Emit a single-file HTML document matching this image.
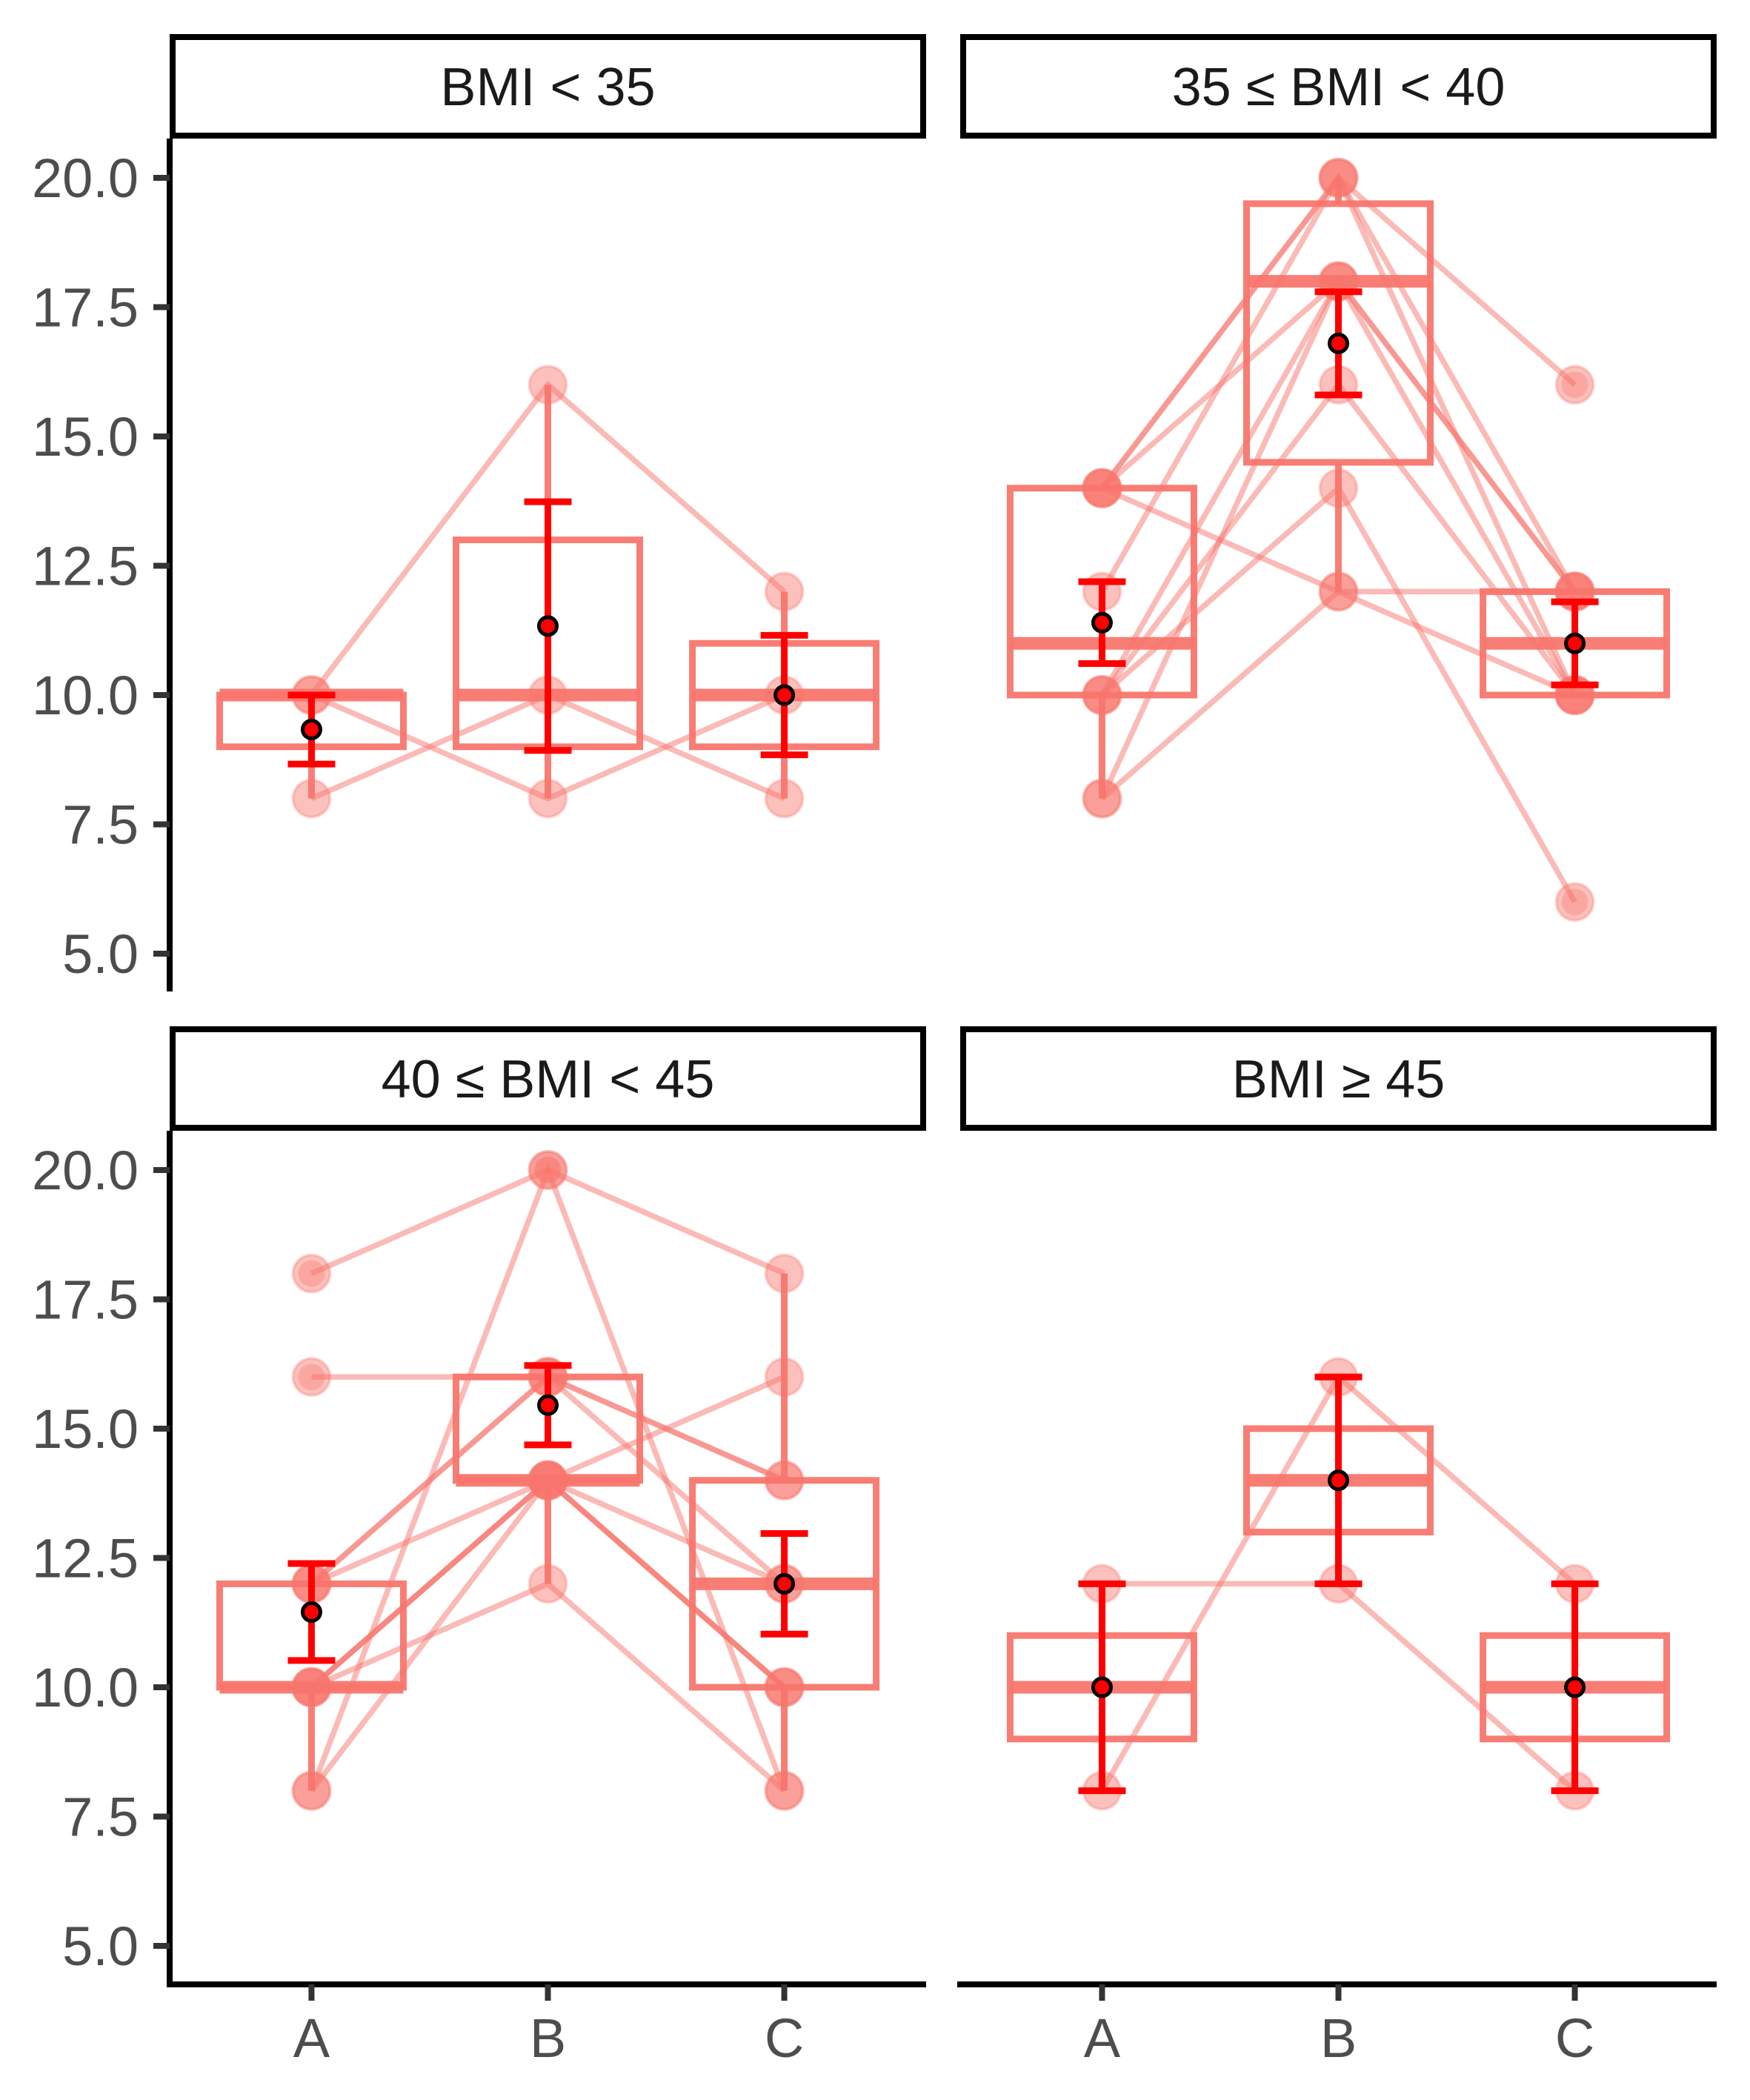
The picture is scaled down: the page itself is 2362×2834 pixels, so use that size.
<!DOCTYPE html>
<html><head><meta charset="utf-8"><style>
html,body{margin:0;padding:0;background:#fff}
svg{display:block}
text{font-family:"Liberation Sans",Arial,sans-serif}
</style></head><body>
<svg id="chart" width="2362" height="2834" viewBox="0 0 2362 2834" xmlns="http://www.w3.org/2000/svg"></svg>
<script>
const categories = ["A","B","C"];
const panelTitles = ["BMI < 35","35 ≤ BMI < 40","40 ≤ BMI < 45","BMI ≥ 45"];
const yTicks = [5.0, 7.5, 10.0, 12.5, 15.0, 17.5, 20.0];
const yTickLabels = ["5.0","7.5","10.0","12.5","15.0","17.5","20.0"];
// subject trajectories [A,B,C] per panel
const panel1 = [[10,16,12],[10,8,10],[8,10,8]];
const panel2 = [[14,20,12],[14,20,10],[14,18,12],[14,12,12],[12,20,16],[10,18,10],[10,16,10],[10,14,6],[8,18,12],[8,12,10]];
const panel3 = [[18,20,18],[16,16,14],[8,20,8],[8,14,10],[10,12,8],[10,14,16],[10,14,12],[12,16,12],[12,14,10],[12,16,14],[10,14,10]];
const panel4 = [[12,12,8],[8,16,12]];
const panels = [panel1, panel2, panel3, panel4];

const svg = document.getElementById('chart');
const NS = "http://www.w3.org/2000/svg";
const COL = "#F8766D";
function mk(tag, attrs, parent){
  const e = document.createElementNS(NS, tag);
  for (const k in attrs) e.setAttribute(k, attrs[k]);
  (parent||svg).appendChild(e);
  return e;
}
function quantile(arr,p){
  const s=[...arr].sort((a,b)=>a-b);const h=(s.length-1)*p;const lo=Math.floor(h);
  return s[lo]+(h-lo)*((s[Math.min(lo+1,s.length-1)])-s[lo]);
}
const layout = [
  {x0:229,x1:1250,top:187,y20:240,y5:1287,bottom:1338,strip:46,yaxis:true,xaxis:false},
  {x0:1296,x1:2317,top:187,y20:240,y5:1287,bottom:1338,strip:46,yaxis:false,xaxis:false},
  {x0:229,x1:1250,top:1526,y20:1579,y5:2626,bottom:2678,strip:1385,yaxis:true,xaxis:true},
  {x0:1296,x1:2317,top:1526,y20:1579,y5:2626,bottom:2678,strip:1385,yaxis:false,xaxis:true}
];
panels.forEach((data, pi) => {
  const L = layout[pi];
  const ys = v => L.y5 + (v-5)*(L.y20-L.y5)/15;
  const xs = i => L.x0 + (i+1-0.4)*(L.x1-L.x0)/3.2;
  const g = mk('g', {});
  
  
  // strip
  const st = mk('rect', {x:L.x0+4, y:L.strip+4, width:L.x1-L.x0-8, height:133, fill:'#fff', stroke:'#000', 'stroke-width':8}, g);
  
  
  const stt = mk('text', {x:(L.x0+L.x1)/2, y:L.strip+96, 'text-anchor':'middle', 'font-size':72, fill:'#1a1a1a'}, g);
  stt.textContent = panelTitles[pi];
  
  
  // boxes
  categories.forEach((c, ci) => {
    const vals = data.map(r => r[ci]);
    const q1 = quantile(vals,0.25), md = quantile(vals,0.5), q3 = quantile(vals,0.75);
    const iqr = q3-q1;
    const inside = vals.filter(v => v >= q1-1.5*iqr && v <= q3+1.5*iqr);
    const mn = Math.min(...inside), mx = Math.max(...inside);
    const x = xs(ci), hw = 124;
    const bg = mk('g', {stroke:COL, fill:'none', 'stroke-opacity':0.95}, g);
    
    
    mk('line', {x1:x, x2:x, y1:ys(q3), y2:ys(mx), 'stroke-width':9}, bg);
    mk('line', {x1:x, x2:x, y1:ys(q1), y2:ys(mn), 'stroke-width':9}, bg);
    mk('rect', {x:x-hw, y:ys(q3), width:2*hw, height:ys(q1)-ys(q3), 'stroke-width':9}, bg);
    mk('line', {x1:x-hw, x2:x+hw, y1:ys(md), y2:ys(md), 'stroke-width':17}, bg);
    vals.filter(v => v < q1-1.5*iqr || v > q3+1.5*iqr).forEach(v => {
      const o = mk('circle', {cx:x, cy:ys(v), r:18, fill:COL, 'fill-opacity':0.35, stroke:'none'}, g);
      
      
    });
  });
  // subject lines
  data.forEach(r => {
    const pts = r.map((v,ci)=> xs(ci)+','+ys(v)).join(' ');
    const pl = mk('polyline', {points:pts, fill:'none', stroke:COL, 'stroke-opacity':0.5, 'stroke-width':7.5}, g);
    
    
  });
  // points
  data.forEach(r => r.forEach((v,ci) => {
    const p = mk('circle', {cx:xs(ci), cy:ys(v), r:25, fill:COL, 'fill-opacity':0.45, stroke:COL, 'stroke-opacity':0.3, 'stroke-width':4}, g);
    
    
  }));
  // error bars + means
  categories.forEach((c, ci) => {
    const vals = data.map(r => r[ci]);
    const n = vals.length, m = vals.reduce((a,b)=>a+b,0)/n;
    const sd = Math.sqrt(vals.reduce((a,b)=>a+(b-m)*(b-m),0)/(n-1));
    const se = sd/Math.sqrt(n);
    const x = xs(ci);
    const eg = mk('g', {stroke:'#FF0000', 'stroke-width':9}, g);
    
    
    mk('line', {x1:x, x2:x, y1:ys(m-se), y2:ys(m+se)}, eg);
    mk('line', {x1:x-32, x2:x+32, y1:ys(m-se), y2:ys(m-se)}, eg);
    mk('line', {x1:x-32, x2:x+32, y1:ys(m+se), y2:ys(m+se)}, eg);
    const md = mk('circle', {cx:x, cy:ys(m), r:12, fill:'#FF0000', stroke:'#000', 'stroke-width':5}, g);
    
    
  });
  // axes
  if (L.yaxis) {
    const ax = mk('line', {x1:L.x0, x2:L.x0, y1:L.top, y2:L.bottom+(L.xaxis?4:0), stroke:'#000', 'stroke-width':8}, g);
    
    
    yTicks.forEach((t, ti) => {
      mk('line', {x1:L.x0-22, x2:L.x0, y1:ys(t), y2:ys(t), stroke:'#333', 'stroke-width':8}, g);
      const tl = mk('text', {x:L.x0-42, y:ys(t)+26, 'text-anchor':'end', 'font-size':74, fill:'#4D4D4D'}, g);
      tl.textContent = yTickLabels[ti];
      
      
    });
  }
  if (L.xaxis) {
    const ax = mk('line', {x1:L.x0-4, x2:L.x1, y1:L.bottom, y2:L.bottom, stroke:'#000', 'stroke-width':8}, g);
    
    
    categories.forEach((c, ci) => {
      mk('line', {x1:xs(ci), x2:xs(ci), y1:L.bottom, y2:L.bottom+22, stroke:'#333', 'stroke-width':8}, g);
      const tl = mk('text', {x:xs(ci), y:L.bottom+98, 'text-anchor':'middle', 'font-size':74, fill:'#4D4D4D'}, g);
      tl.textContent = c;
      
      
    });
  }
});
</script>
</body></html>
